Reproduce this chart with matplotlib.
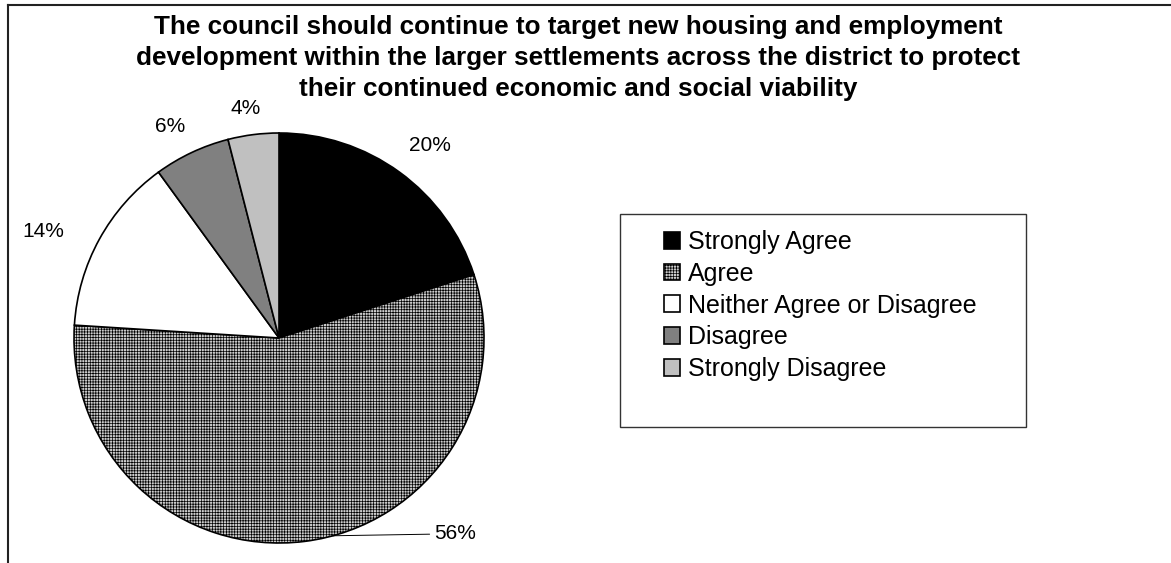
import matplotlib.pyplot as plt
from matplotlib.lines import Line2D
from matplotlib.patches import Rectangle
import numpy as np

plt.rcParams['font.family'] = ['Liberation Sans', 'DejaVu Sans']
plt.rcParams['hatch.linewidth'] = 0.5

title_lines = ["The council should continue to target new housing and employment",
               "development within the larger settlements across the district to protect",
               "their continued economic and social viability"]
answers = ["Strongly Agree", "Agree", "Neither Agree or Disagree", "Disagree", "Strongly Disagree"]
shares = [20, 56, 14, 6, 4]
fills = ["black", "#cccccc", "white", "#808080", "#c0c0c0"]
hatches = [None, "++++++", None, None, None]

# where each percentage sits, in pie-radius units from the centre
label_xy = [(0.735, 0.94), (0.755, -0.955), (-1.15, 0.52), (-0.53, 1.03), (-0.165, 1.12)]

W, H = 1171, 563
fig = plt.figure(figsize=(W / 100, H / 100), dpi=100)

# outer chart border (top and left edges only)
fig.add_artist(Line2D([8 / W, 1], [1 - 5 / H, 1 - 5 / H], color="#222222", lw=1.5))
fig.add_artist(Line2D([8 / W, 8 / W], [0, 1 - 5 / H], color="#222222", lw=1.5))

# title, one line at a time, 31 px apart
for k, line in enumerate(title_lines):
    fig.text(578 / W, 1 - (27 + 31 * k) / H, line, ha="center", va="center",
             fontsize=18.8, fontweight="bold")

cx, cy, r = 279, 338, 205
ax = fig.add_axes([(cx - r) / W, (H - cy - r) / H, 2 * r / W, 2 * r / H])
wedges, _ = ax.pie(shares, colors=fills, startangle=90, counterclock=False,
                   wedgeprops=dict(edgecolor="black", linewidth=1.2))
for w, h in zip(wedges, hatches):
    if h:
        w.set_hatch(h)
ax.set_xlim(-1, 1)
ax.set_ylim(-1, 1)

for i, (v, (lx, ly)) in enumerate(zip(shares, label_xy)):
    if answers[i] == "Agree":
        # leader line from the rim of the big slice
        w = wedges[i]
        ang = np.deg2rad(w.theta2 - 0.46 * (w.theta2 - w.theta1))
        ax.annotate(f"{v}%", xy=(np.cos(ang), np.sin(ang)), xytext=(lx, ly),
                    ha="left", va="center", fontsize=15,
                    arrowprops=dict(arrowstyle="-", color="black", lw=0.7,
                                    shrinkA=1, shrinkB=0))
    else:
        ax.text(lx, ly, f"{v}%", ha="center", va="center", fontsize=15)

# legend frame drawn separately so the box can be wider than its entries
fig.add_artist(Rectangle((620 / W, 1 - 427 / H), 406 / W, 213 / H, transform=fig.transFigure,
                         facecolor="none", edgecolor="#333333", lw=1.0))
fig.legend(wedges, answers, loc="upper left", bbox_to_anchor=(664 / W, 1 - 230 / H),
           frameon=False, fontsize=18, handlelength=0.65, handleheight=0.65,
           handletextpad=0.3, labelspacing=0.31, borderpad=0, borderaxespad=0)

fig.savefig("out.png", dpi=100)
